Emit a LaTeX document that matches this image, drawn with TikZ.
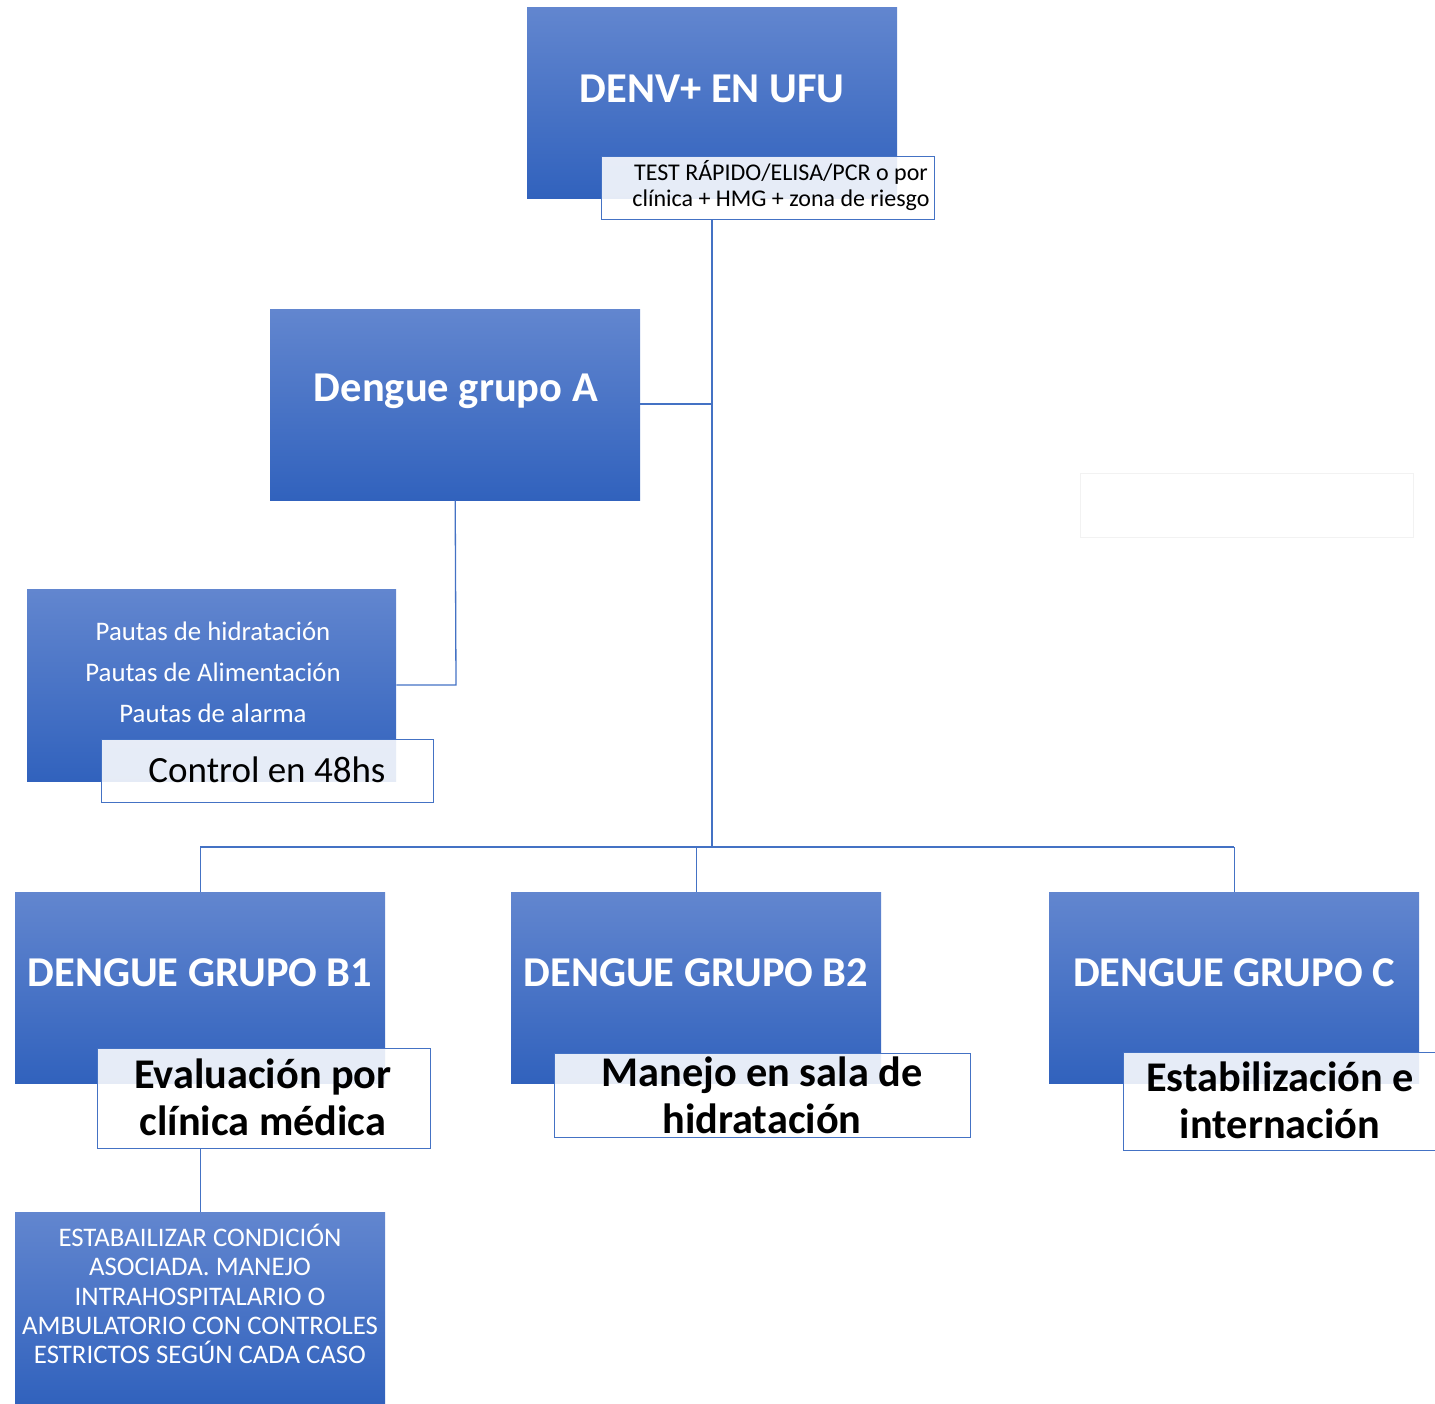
\documentclass[tikz,border=0pt]{standalone}
\usepackage{fontspec}
\setmainfont{Carlito}
\definecolor{gT}{HTML}{6286CF}
\definecolor{gM}{HTML}{4070C8}
\definecolor{gB}{HTML}{3162BD}
\definecolor{ln}{HTML}{4472C4}
\begin{document}
\begin{tikzpicture}[x=1pt,y=-1pt,
  bluebox/.style={draw=none,top color=gT,middle color=gM,bottom color=gB,minimum width=370pt,minimum height=191pt,inner sep=0pt,anchor=north west},
  subbox/.style={draw=ln,line width=1pt,fill=white,fill opacity=0.88,text opacity=1,inner sep=0pt,anchor=north west},
  title/.style={text=white,font=\bfseries\fontsize{42.5}{46}\selectfont},
  conn/.style={draw=ln,line width=1.3pt}]
\useasboundingbox (0,0) rectangle (1435,1404);
% boxes
\node[bluebox] (denv) at (527,7) {};
\node[title] (denvt) at (712,89) {DENV+ EN UFU};
\node[subbox,minimum width=333pt,minimum height=63pt] (test) at (601,156) {};
\node[align=center,font=\fontsize{24}{26}\selectfont] (testt) at (781,186) {TEST RÁPIDO/ELISA/PCR o por\\clínica + HMG + zona de riesgo};

\node[bluebox] (ga) at (270,309) {};
\node[title] (gat) at (456,391) {Dengue grupo A};

\node[bluebox,minimum width=369pt,minimum height=192pt] (pa) at (27,589) {};
\node[text=white,font=\fontsize{26.8}{41}\selectfont,align=center] (pat) at (213,672) {Pautas de hidratación\\Pautas de Alimentación\\Pautas de alarma};
\node[subbox,minimum width=332pt,minimum height=63pt] (ctl) at (101,739) {};
\node[font=\fontsize{37}{40}\selectfont] (ctlt) at (267,770) {Control en 48hs};

\node[bluebox] (b1) at (15,892) {};
\node[title] (b1t) at (200,973) {DENGUE GRUPO B1};
\node[bluebox] (b2) at (511,892) {};
\node[title] (b2t) at (696,973) {DENGUE GRUPO B2};
\node[bluebox] (c) at (1049,892) {};
\node[title] (ct) at (1234,973) {DENGUE GRUPO C};

\node[subbox,minimum width=333pt,minimum height=100pt] (ev) at (97,1048) {};
\node[font=\bfseries\fontsize{42.3}{47}\selectfont,align=center] (evt) at (263,1097) {Evaluación por\\clínica médica};
\node[subbox,minimum width=416pt,minimum height=84pt] (mj) at (554,1053) {};
\node[font=\bfseries\fontsize{42.3}{47}\selectfont,align=center] (mjt) at (762,1095) {Manejo en sala de\\hidratación};
\node[subbox,minimum width=320pt,minimum height=98pt] (es) at (1123,1052) {};
\node[font=\bfseries\fontsize{42.3}{47}\selectfont,align=center] (est) at (1280,1100) {Estabilización e\\internación};

\node[bluebox] (st) at (15,1212) {};
\node[text=white,font=\fontsize{26.8}{29.2}\selectfont,align=center] (stt) at (200,1294) {ESTABAILIZAR CONDICIÓN\\ASOCIADA. MANEJO\\INTRAHOSPITALARIO O\\AMBULATORIO CON CONTROLES\\ESTRICTOS SEGÚN CADA CASO};

% faint empty box
\node[draw={rgb,255:red,242;green,242;blue,242},line width=0.8pt,fill=white,minimum width=333pt,minimum height=64pt,inner sep=0pt,anchor=north west] (fb) at (1080,473) {};

% connectors
\coordinate (j1) at (712,404);
\coordinate (j2) at (712,847);
\coordinate (ja) at (456,685);
\draw[conn] (test.south -| j1) -- (j2);
\draw[conn] (ga.east |- j1) -- (j1);
\draw[conn] (ga.south) -- (ja) -- (pa.east |- ja);
\draw[conn] (b1.north |- j2) -- (c.north |- j2);
\draw[conn] (b1.north |- j2) -- (b1.north);
\draw[conn] (b2.north |- j2) -- (b2.north);
\draw[conn] (c.north |- j2) -- (c.north);
\draw[conn] (ev.south -| b1.north) -- (st.north);
\end{tikzpicture}
\end{document}
